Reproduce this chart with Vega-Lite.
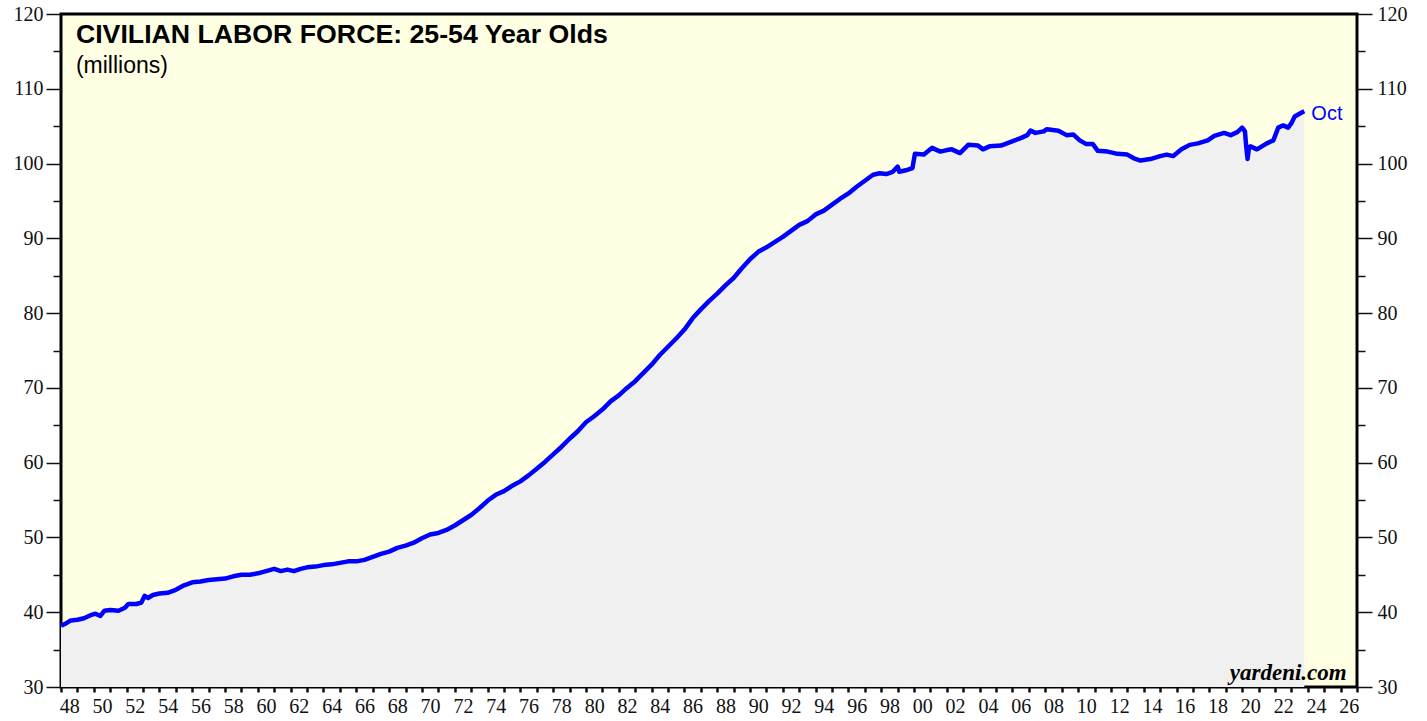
{
  "$schema": "https://vega.github.io/schema/vega-lite/v6.json",
  "width": 1296,
  "height": 673,
  "autosize": "none",
  "padding": {"left": 61, "top": 14, "right": 70, "bottom": 34},
  "background": "white",
  "config": {
    "view": {"stroke": "black", "strokeWidth": 3, "fill": "#FFFFE4"},
    "axis": {"domain": false, "grid": false, "labelFont": "Liberation Serif", "labelFontSize": 20, "labelColor": "#111", "tickColor": "#111", "title": null}
  },
  "data": {"values": [
    {"t":1948.0,"v":38.2},{"t":1948.3,"v":38.5},{"t":1948.6,"v":38.9},{"t":1949.0,"v":39.0},{"t":1949.4,"v":39.2},{"t":1949.8,"v":39.6},
    {"t":1950.1,"v":39.8},{"t":1950.4,"v":39.5},{"t":1950.65,"v":40.2},{"t":1951.0,"v":40.3},{"t":1951.5,"v":40.2},{"t":1951.9,"v":40.6},
    {"t":1952.1,"v":41.1},{"t":1952.6,"v":41.1},{"t":1952.9,"v":41.3},{"t":1953.1,"v":42.2},{"t":1953.3,"v":41.9},{"t":1953.6,"v":42.3},
    {"t":1954.0,"v":42.5},{"t":1954.5,"v":42.6},{"t":1955.0,"v":43.0},{"t":1955.5,"v":43.6},{"t":1956.0,"v":44.0},{"t":1956.5,"v":44.1},
    {"t":1957.0,"v":44.3},{"t":1957.5,"v":44.4},{"t":1958.0,"v":44.5},{"t":1958.5,"v":44.8},{"t":1959.0,"v":45.0},{"t":1959.5,"v":45.0},
    {"t":1960.0,"v":45.2},{"t":1960.5,"v":45.5},{"t":1961.0,"v":45.8},{"t":1961.4,"v":45.5},{"t":1961.8,"v":45.7},{"t":1962.2,"v":45.5},
    {"t":1962.6,"v":45.8},{"t":1963.0,"v":46.0},{"t":1963.5,"v":46.1},{"t":1964.0,"v":46.3},{"t":1964.5,"v":46.4},{"t":1965.0,"v":46.6},
    {"t":1965.5,"v":46.8},{"t":1966.0,"v":46.8},{"t":1966.5,"v":47.0},{"t":1967.0,"v":47.4},{"t":1967.5,"v":47.8},{"t":1968.0,"v":48.1},
    {"t":1968.5,"v":48.6},{"t":1969.0,"v":48.9},{"t":1969.5,"v":49.3},{"t":1970.0,"v":49.9},{"t":1970.5,"v":50.4},{"t":1971.0,"v":50.6},
    {"t":1971.5,"v":51.0},{"t":1972.0,"v":51.6},{"t":1972.5,"v":52.3},{"t":1973.0,"v":53.0},{"t":1973.5,"v":53.9},{"t":1974.0,"v":54.9},
    {"t":1974.5,"v":55.7},{"t":1975.0,"v":56.2},{"t":1975.5,"v":56.9},{"t":1976.0,"v":57.5},{"t":1976.5,"v":58.3},{"t":1977.0,"v":59.2},
    {"t":1977.5,"v":60.1},{"t":1978.0,"v":61.1},{"t":1978.5,"v":62.1},{"t":1979.0,"v":63.2},{"t":1979.5,"v":64.2},{"t":1980.0,"v":65.4},
    {"t":1980.5,"v":66.2},{"t":1981.0,"v":67.1},{"t":1981.5,"v":68.2},{"t":1982.0,"v":69.0},{"t":1982.5,"v":70.0},{"t":1983.0,"v":70.9},
    {"t":1983.5,"v":72.0},{"t":1984.0,"v":73.1},{"t":1984.5,"v":74.4},{"t":1985.0,"v":75.5},{"t":1985.5,"v":76.6},{"t":1986.0,"v":77.8},
    {"t":1986.5,"v":79.3},{"t":1987.0,"v":80.5},{"t":1987.5,"v":81.6},{"t":1988.0,"v":82.6},{"t":1988.5,"v":83.7},{"t":1989.0,"v":84.7},
    {"t":1989.5,"v":86.0},{"t":1990.0,"v":87.2},{"t":1990.5,"v":88.2},{"t":1991.0,"v":88.8},{"t":1991.5,"v":89.5},{"t":1992.0,"v":90.2},
    {"t":1992.5,"v":91.0},{"t":1993.0,"v":91.8},{"t":1993.5,"v":92.3},{"t":1994.0,"v":93.2},{"t":1994.5,"v":93.7},{"t":1995.0,"v":94.5},
    {"t":1995.5,"v":95.3},{"t":1996.0,"v":96.0},{"t":1996.5,"v":96.9},{"t":1997.0,"v":97.7},{"t":1997.5,"v":98.5},{"t":1997.9,"v":98.7},
    {"t":1998.3,"v":98.6},{"t":1998.7,"v":98.9},{"t":1999.0,"v":99.6},{"t":1999.1,"v":98.9},{"t":1999.5,"v":99.1},{"t":1999.9,"v":99.4},
    {"t":2000.05,"v":101.3},{"t":2000.6,"v":101.2},{"t":2001.1,"v":102.1},{"t":2001.6,"v":101.6},{"t":2002.0,"v":101.8},{"t":2002.3,"v":101.9},
    {"t":2002.8,"v":101.4},{"t":2003.3,"v":102.5},{"t":2003.9,"v":102.4},{"t":2004.2,"v":101.9},{"t":2004.6,"v":102.3},{"t":2005.3,"v":102.4},
    {"t":2005.9,"v":102.9},{"t":2006.5,"v":103.4},{"t":2006.9,"v":103.8},{"t":2007.1,"v":104.4},{"t":2007.4,"v":104.1},{"t":2007.9,"v":104.3},
    {"t":2008.1,"v":104.6},{"t":2008.8,"v":104.4},{"t":2009.3,"v":103.8},{"t":2009.7,"v":103.9},{"t":2010.1,"v":103.1},{"t":2010.5,"v":102.6},
    {"t":2010.9,"v":102.6},{"t":2011.2,"v":101.7},{"t":2011.8,"v":101.6},{"t":2012.4,"v":101.3},{"t":2013.0,"v":101.2},{"t":2013.4,"v":100.7},
    {"t":2013.8,"v":100.4},{"t":2014.4,"v":100.6},{"t":2015.0,"v":101.0},{"t":2015.4,"v":101.2},{"t":2015.8,"v":101.0},{"t":2016.3,"v":101.9},
    {"t":2016.8,"v":102.5},{"t":2017.3,"v":102.7},{"t":2017.9,"v":103.1},{"t":2018.3,"v":103.7},{"t":2018.9,"v":104.1},{"t":2019.3,"v":103.8},
    {"t":2019.7,"v":104.2},{"t":2020.0,"v":104.8},{"t":2020.17,"v":104.3},{"t":2020.25,"v":102.2},{"t":2020.33,"v":100.6},{"t":2020.42,"v":102.2},
    {"t":2020.5,"v":102.3},{"t":2020.9,"v":101.9},{"t":2021.5,"v":102.7},{"t":2021.9,"v":103.1},{"t":2022.2,"v":104.8},{"t":2022.5,"v":105.1},
    {"t":2022.8,"v":104.8},{"t":2023.0,"v":105.4},{"t":2023.2,"v":106.3},{"t":2023.6,"v":106.8},{"t":2023.79,"v":107.0}
  ]},
  "layer": [
    {
      "mark": {"type": "area", "color": "#F0F0F0"},
      "encoding": {
        "x": {"field": "t", "type": "quantitative",
          "scale": {"domain": [1948, 2027], "nice": false, "zero": false},
          "axis": {
            "orient": "bottom",
            "values": [1948,1949,1950,1951,1952,1953,1954,1955,1956,1957,1958,1959,1960,1961,1962,1963,1964,1965,1966,1967,1968,1969,1970,1971,1972,1973,1974,1975,1976,1977,1978,1979,1980,1981,1982,1983,1984,1985,1986,1987,1988,1989,1990,1991,1992,1993,1994,1995,1996,1997,1998,1999,2000,2001,2002,2003,2004,2005,2006,2007,2008,2009,2010,2011,2012,2013,2014,2015,2016,2017,2018,2019,2020,2021,2022,2023,2024,2025,2026,2027],
            "tickSize": 5,
            "tickWidth": 2.5,
            "labels": false
          }
        },
        "y": {"field": "v", "type": "quantitative",
          "scale": {"domain": [30, 120], "nice": false, "zero": false},
          "axis": {
            "orient": "left",
            "values": [30,35,40,45,50,55,60,65,70,75,80,85,90,95,100,105,110,115,120],
            "tickSize": {"condition": {"test": "datum.value % 10 !== 0", "value": 8}, "value": 15},
            "tickWidth": 1.5,
            "labelPadding": 3,
            "labelExpr": "datum.value % 10 === 0 ? datum.label : ''"
          }
        },
        "y2": {"datum": 30}
      }
    },
    {
      "mark": {"type": "line", "color": "#0000FF", "strokeWidth": 4.5, "strokeJoin": "round"},
      "encoding": {
        "x": {"field": "t", "type": "quantitative",
          "axis": {
            "orient": "bottom",
            "values": [1948.5,1950.5,1952.5,1954.5,1956.5,1958.5,1960.5,1962.5,1964.5,1966.5,1968.5,1970.5,1972.5,1974.5,1976.5,1978.5,1980.5,1982.5,1984.5,1986.5,1988.5,1990.5,1992.5,1994.5,1996.5,1998.5,2000.5,2002.5,2004.5,2006.5,2008.5,2010.5,2012.5,2014.5,2016.5,2018.5,2020.5,2022.5,2024.5,2026.5],
            "ticks": false,
            "labelPadding": 9,
            "labelOverlap": false,
            "labelFlush": false,
            "labelBound": false,
            "labelExpr": "slice(toString(floor(datum.value)), 2)"
          }
        },
        "y": {"field": "v", "type": "quantitative",
          "axis": {
            "orient": "right",
            "values": [30,35,40,45,50,55,60,65,70,75,80,85,90,95,100,105,110,115,120],
            "tickSize": {"condition": {"test": "datum.value % 10 !== 0", "value": 8}, "value": 15},
            "tickWidth": 1.5,
            "labelPadding": 5,
            "labelExpr": "datum.value % 10 === 0 ? datum.label : ''"
          }
        }
      }
    },
    {
      "transform": [{"filter": "datum.t > 2023.7"}],
      "mark": {"type": "text", "align": "left", "baseline": "alphabetic", "dx": 7, "dy": 9, "color": "#0000FF", "font": "Liberation Sans", "fontSize": 20},
      "encoding": {
        "x": {"field": "t", "type": "quantitative", "axis": null},
        "y": {"field": "v", "type": "quantitative", "axis": null},
        "text": {"value": "Oct"}
      }
    },
    {
      "data": {"values": [{"label": "CIVILIAN LABOR FORCE: 25-54 Year Olds"}]},
      "mark": {"type": "text", "align": "left", "baseline": "alphabetic", "font": "Liberation Sans", "fontWeight": "bold", "fontSize": 26.7, "color": "#000"},
      "encoding": {
        "x": {"datum": 1948.91, "type": "quantitative", "axis": null},
        "y": {"datum": 116.08, "type": "quantitative", "axis": null},
        "text": {"field": "label"}
      }
    },
    {
      "data": {"values": [{"label": "(millions)"}]},
      "mark": {"type": "text", "align": "left", "baseline": "alphabetic", "font": "Liberation Sans", "fontSize": 23, "color": "#000"},
      "encoding": {
        "x": {"datum": 1948.91, "type": "quantitative", "axis": null},
        "y": {"datum": 112.15, "type": "quantitative", "axis": null},
        "text": {"field": "label"}
      }
    },
    {
      "data": {"values": [{"label": "yardeni.com"}]},
      "mark": {"type": "text", "align": "right", "baseline": "alphabetic", "font": "Liberation Serif", "fontWeight": "bold", "fontStyle": "italic", "fontSize": 23, "color": "#000"},
      "encoding": {
        "x": {"datum": 2026.37, "type": "quantitative", "axis": null},
        "y": {"datum": 30.95, "type": "quantitative", "axis": null},
        "text": {"field": "label"}
      }
    }
  ],
  "resolve": {"axis": {"x": "independent", "y": "independent"}}
}
